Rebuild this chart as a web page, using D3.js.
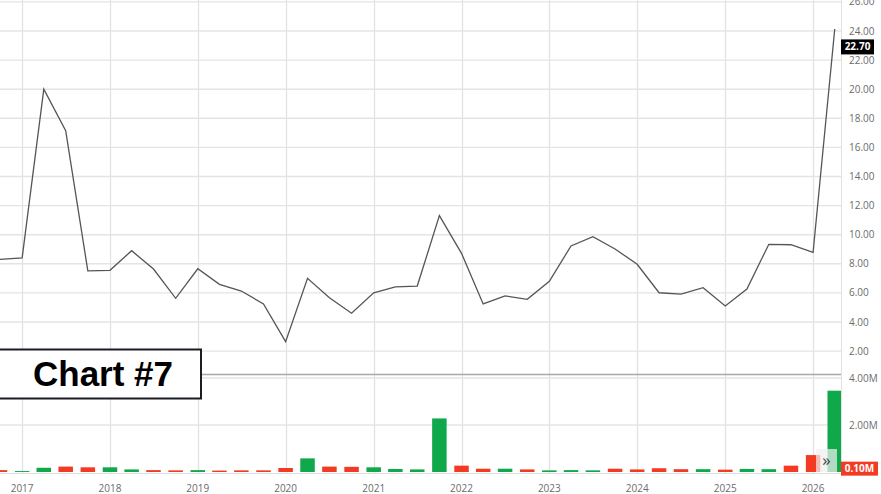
<!DOCTYPE html>
<html>
<head>
<meta charset="utf-8">
<script src="https://cdn.jsdelivr.net/npm/d3@7/dist/d3.min.js"></script>
<style>
  html, body { margin: 0; padding: 0; background: #fff; }
  svg { display: block; }
  .ax { font-family: "Open Sans", "Noto Sans", "DejaVu Sans", sans-serif; }
  .title { font-family: "Liberation Sans", Arial, sans-serif; }
</style>
</head>
<body>
<svg id="chart" width="881" height="494"></svg>
<script>
// ---- data ----
const dates = ["2016-10-01","2017-01-01","2017-04-01","2017-07-01","2017-10-01",
  "2018-01-01","2018-04-01","2018-07-01","2018-10-01",
  "2019-01-01","2019-04-01","2019-07-01","2019-10-01",
  "2020-01-01","2020-04-01","2020-07-01","2020-10-01",
  "2021-01-01","2021-04-01","2021-07-01","2021-10-01",
  "2022-01-01","2022-04-01","2022-07-01","2022-10-01",
  "2023-01-01","2023-04-01","2023-07-01","2023-10-01",
  "2024-01-01","2024-04-01","2024-07-01","2024-10-01",
  "2025-01-01","2025-04-01","2025-07-01","2025-10-01",
  "2026-01-01","2026-04-01"];
const closes = [8.31, 8.40, 20.0, 17.15, 7.51,
  7.55, 8.90, 7.64, 5.63,
  7.66, 6.59, 6.13, 5.24,
  2.65, 7.00, 5.67, 4.60,
  6.01, 6.41, 6.47, 11.31,
  8.72, 5.24, 5.79, 5.56,
  6.80, 9.23, 9.86, 9.02,
  7.97, 6.01, 5.92, 6.36,
  5.10, 6.27, 9.34, 9.31,
  8.79, 24.14];
const volumesM = [0.08, 0.04, 0.18, 0.23, 0.20,
  0.20, 0.11, 0.08, 0.07,
  0.08, 0.06, 0.07, 0.07,
  0.17, 0.58, 0.23, 0.22,
  0.20, 0.13, 0.11, 2.28,
  0.27, 0.14, 0.14, 0.11,
  0.07, 0.08, 0.07, 0.14,
  0.11, 0.16, 0.12, 0.12,
  0.10, 0.13, 0.12, 0.27,
  0.72, 3.46];
const volumeDir = ["d","u","u","d","d",
  "u","u","d","d",
  "u","d","d","d",
  "d","u","d","d",
  "u","u","u","u",
  "d","d","u","d",
  "u","u","u","d",
  "d","d","d","u",
  "d","u","u","d",
  "d","u"];
const priceTicks = [2, 4, 6, 8, 10, 12, 14, 16, 18, 20, 22, 24, 26];
const volumeTicks = [2, 4];
const yearTicks = ["2017","2018","2019","2020","2021","2022","2023","2024","2025","2026"];
const lastPriceLabel = "22.70";
const lastPriceValue = 22.70;
const lastVolumeLabel = "0.10M";
const lastVolumeValue = 0.10;
const chartTitle = "Chart #7";

// ---- layout ----
const svg = d3.select("#chart");
const plotRight = 841;
const parse = d3.utcParse("%Y-%m-%d");
const data = dates.map((d, i) => ({ date: parse(d), close: closes[i], vol: volumesM[i], dir: volumeDir[i] }));

const x = d3.scaleUtc()
  .domain([parse("2016-10-01"), parse("2026-04-27")])
  .range([0, plotRight]);
const y = d3.scaleLinear().domain([0, 26]).range([380.2, 1.9]);
const yv = d3.scaleLinear().domain([0, 4]).range([472, 378]);

const grid = svg.append("g");
grid.selectAll("line.vx").data(yearTicks).join("line")
  .attr("x1", d => Math.round(x(parse(d + "-01-01"))) + 0.5)
  .attr("x2", d => Math.round(x(parse(d + "-01-01"))) + 0.5)
  .attr("y1", 0).attr("y2", 474)
  .attr("stroke", "#e2e2e2").attr("stroke-width", 1.3);
grid.selectAll("line.hp").data(priceTicks).join("line")
  .attr("x1", 0).attr("x2", plotRight)
  .attr("y1", d => y(d)).attr("y2", d => y(d))
  .attr("stroke", "#e4e4e4").attr("stroke-width", 1.4);
grid.selectAll("line.hv").data(volumeTicks).join("line")
  .attr("x1", 0).attr("x2", plotRight)
  .attr("y1", d => yv(d)).attr("y2", d => yv(d))
  .attr("stroke", "#e4e4e4").attr("stroke-width", 1.4);
grid.append("line").attr("x1", 0).attr("x2", plotRight)
  .attr("y1", yv(0) + 1.5).attr("y2", yv(0) + 1.5)
  .attr("stroke", "#dedede").attr("stroke-width", 1.2);
grid.append("line").attr("x1", plotRight + 0.5).attr("x2", plotRight + 0.5)
  .attr("y1", 0).attr("y2", 476)
  .attr("stroke", "#e2e2e2").attr("stroke-width", 1);
grid.append("line").attr("x1", 0).attr("x2", plotRight)
  .attr("y1", 374.5).attr("y2", 374.5)
  .attr("stroke", "#a8a8a8").attr("stroke-width", 1.3);

// volume bars
svg.append("clipPath").attr("id", "plotclip")
  .append("rect").attr("x", 0).attr("y", 0).attr("width", plotRight).attr("height", 476);
const bw = 14.5;
svg.append("g").attr("clip-path", "url(#plotclip)")
  .selectAll("rect").data(data).join("rect")
  .attr("x", d => x(d.date) - bw / 2)
  .attr("width", bw)
  .attr("y", d => yv(d.vol))
  .attr("height", d => yv(0) - yv(d.vol))
  .attr("fill", d => d.dir === "u" ? "#0fa94b" : "#f23b22");

// price line
const line = d3.line().x(d => x(d.date)).y(d => y(d.close));
svg.append("path").datum(data)
  .attr("d", line)
  .attr("fill", "none")
  .attr("stroke", "#555")
  .attr("stroke-width", 1.3);

// right axis labels
const axisG = svg.append("g").attr("class", "ax").attr("font-size", 10).attr("fill", "#6b6b6b");
axisG.selectAll("text.p").data(priceTicks).join("text")
  .attr("x", 849).attr("y", d => y(d)).attr("dy", "0.35em")
  .text(d => d3.format(".2f")(d));
axisG.selectAll("text.v").data(volumeTicks).join("text")
  .attr("x", 849).attr("y", d => yv(d)).attr("dy", "0.35em")
  .text(d => d3.format(".2f")(d) + "M");

// x axis labels
svg.append("g").attr("class", "ax").attr("font-size", 10).attr("fill", "#6b6b6b")
  .selectAll("text").data(yearTicks).join("text")
  .attr("x", d => x(parse(d + "-01-01")))
  .attr("y", 488).attr("dy", "0.35em")
  .attr("text-anchor", "middle")
  .text(d => d);

// last price tag
const py = y(lastPriceValue) - 3;
svg.append("rect").attr("x", 841).attr("y", py - 7.5).attr("width", 33).attr("height", 15).attr("fill", "#000");
svg.append("text").attr("class", "ax").attr("x", 857.5).attr("y", py).attr("dy", "0.35em")
  .attr("text-anchor", "middle").attr("font-size", 10).attr("font-weight", 700)
  .attr("fill", "#fff").text(lastPriceLabel);

// last volume tag
const vy = yv(lastVolumeValue) - 1;
svg.append("rect").attr("x", 841).attr("y", vy - 7).attr("width", 37).attr("height", 14).attr("fill", "#f23b22");
svg.append("text").attr("class", "ax").attr("x", 859.5).attr("y", vy).attr("dy", "0.35em")
  .attr("text-anchor", "middle").attr("font-size", 10).attr("font-weight", 700)
  .attr("fill", "#fff").text(lastVolumeLabel);

// scroll button overlay
svg.append("rect").attr("x", 816).attr("y", 449).attr("width", 21).attr("height", 23)
  .attr("fill", "#f0f0f0").attr("fill-opacity", 0.72);
svg.append("text").attr("class", "ax").attr("x", 826.5).attr("y", 460).attr("dy", "0.35em")
  .attr("text-anchor", "middle").attr("font-size", 17).attr("font-weight", 400)
  .attr("fill", "#444").text("»");

// title box
svg.append("rect").attr("x", -2).attr("y", 349.5).attr("width", 203).attr("height", 49)
  .attr("fill", "#fff").attr("stroke", "#1c1c24").attr("stroke-width", 2);
svg.append("text").attr("class", "title").attr("x", 33).attr("y", 386)
  .attr("font-size", 35).attr("font-weight", 700).attr("fill", "#000")
  .text(chartTitle);
</script>
</body>
</html>
